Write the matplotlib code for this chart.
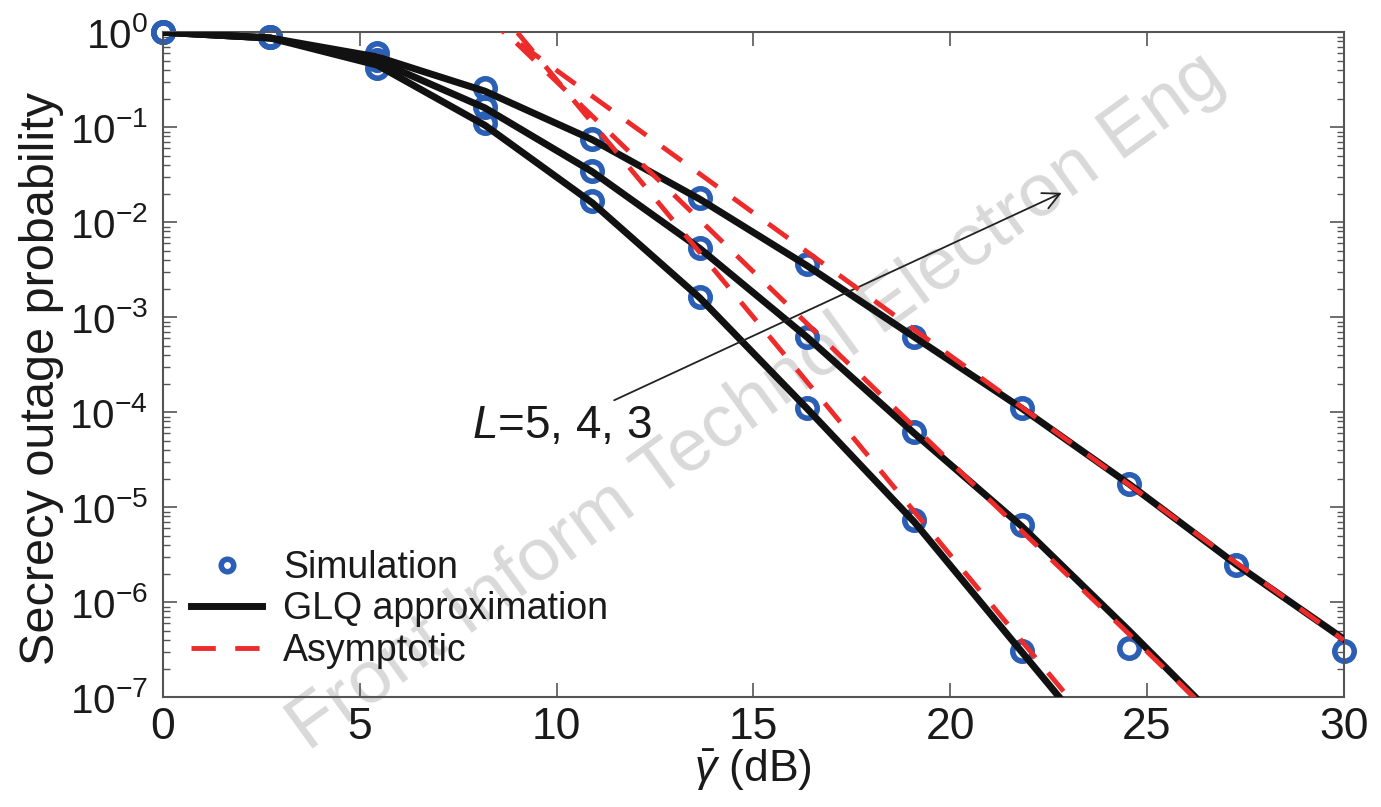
import numpy as np
import matplotlib
matplotlib.use("Agg")
import matplotlib.pyplot as plt
from matplotlib.ticker import LogLocator, NullFormatter

plt.rcParams['font.family'] = ['Liberation Sans', 'DejaVu Sans']
plt.rcParams['mathtext.fontset'] = 'custom'
plt.rcParams['mathtext.rm'] = 'Liberation Sans'
plt.rcParams['mathtext.it'] = 'Liberation Sans:italic'

# average SNR (dB) grid of the simulation points
snr_db = [0, 2.73, 5.45, 8.18, 10.91, 13.64, 16.36, 19.09, 21.82, 24.55, 27.27, 30]

# Monte-Carlo results (nan = no outage observed)
sim_L3 = [1.0, 0.885, 0.60, 0.257, 0.076, 0.0178, 3.6e-3, 6.2e-4, 1.1e-4, 1.74e-5, 2.45e-6, 3.1e-7]
sim_L4 = [1.0, 0.885, 0.51, 0.162, 0.035, 0.0054, 6.2e-4, 6.2e-5, 6.5e-6, 3.3e-7, np.nan, np.nan]
sim_L5 = [1.0, 0.885, 0.42, 0.11, 0.0166, 1.62e-3, 1.12e-4, 7.3e-6, 3.1e-7, np.nan, np.nan, np.nan]

# Gauss-Laguerre quadrature approximation
glq_L3 = [1.0, 0.87, 0.55, 0.24, 0.074, 0.0175, 3.5e-3, 6.2e-4, 1.1e-4, 1.75e-5, 2.5e-6, 4.1e-7]
glq_L4 = [1.0, 0.87, 0.50, 0.16, 0.034, 0.0053, 6.2e-4, 6.0e-5, 6.3e-6, 5.0e-7, 3.7e-8, 2.8e-9]
glq_L5 = [1.0, 0.87, 0.45, 0.105, 0.016, 1.6e-3, 1.1e-4, 7.0e-6, 3.0e-7, 1.3e-8, 6e-10, 2e-11]

# high-SNR asymptotes
asym_db = [8.18, 10.91, 13.64, 16.36, 19.09, 21.82, 24.55, 27.27, 30]
asym_L3 = [1.40, 0.212, 0.0323, 4.9e-3, 7.4e-4, 1.13e-4, 1.72e-5, 2.6e-6, 4.0e-7]
asym_L4 = [1.61, 0.131, 0.0106, 8.6e-4, 7.0e-5, 5.6e-6, 4.6e-7, 3.7e-8, 3.0e-9]
asym_L5 = [2.57, 0.111, 4.8e-3, 2.1e-4, 9.0e-6, 3.9e-7, 1.7e-8, 7e-10, 3e-11]

blue = '#2a5fb5'
red = '#ee2b2b'
txt = '#1a1a1a'

fig = plt.figure(figsize=(13.81, 8.07), dpi=100)
ax = fig.add_axes([0.118, 0.136, 0.855, 0.824])

for i, sim in enumerate([sim_L3, sim_L4, sim_L5]):
    ax.semilogy(snr_db, sim, 'o', ls='none', mfc='none', mec=blue, ms=14, mew=4,
                zorder=2, clip_on=False, label='Simulation' if i == 0 else None)
for i, glq in enumerate([glq_L3, glq_L4, glq_L5]):
    ax.semilogy(snr_db, glq, '-', color='#111111', lw=5, zorder=3,
                label='GLQ approximation' if i == 0 else None)
for i, asym in enumerate([asym_L3, asym_L4, asym_L5]):
    ax.semilogy(asym_db, asym, color=red, lw=3.5, dashes=(5, 4), zorder=4,
                label='Asymptotic' if i == 0 else None)

ax.set_xlim(0, 30)
ax.set_ylim(1e-7, 1)
ax.set_xticks([0, 5, 10, 15, 20, 25, 30])
ax.yaxis.set_major_locator(LogLocator(base=10, numticks=20))
ax.yaxis.set_minor_locator(LogLocator(base=10, subs=np.arange(2, 10), numticks=20))
ax.yaxis.set_minor_formatter(NullFormatter())
ax.tick_params(which='both', direction='in', top=True, right=True, colors='#555555',
               labelcolor=txt)
ax.tick_params(which='major', length=10, width=1.2)
ax.tick_params(which='minor', length=5, width=1.0)
ax.tick_params(axis='x', which='major', pad=7, labelsize=32)
ax.tick_params(axis='y', which='major', pad=11, labelsize=29)
ax.tick_params(axis='x', which='minor', bottom=False, top=False)
for sp in ax.spines.values():
    sp.set_color('#555555')
    sp.set_linewidth(1.5)

ax.set_xlabel(r'$\bar{\gamma}$ (dB)', fontsize=32, color=txt, labelpad=0)
ax.set_ylabel('Secrecy outage probability', fontsize=35, color=txt)
ax.yaxis.set_label_coords(-0.084, 0.48)

ax.annotate('', xy=(22.9, 0.021), xytext=(11.4, 1.3e-4),
            arrowprops=dict(arrowstyle='->', color='#222222', lw=1.3, mutation_scale=30))
ax.text(7.85, 7.2e-5, '$L$=5, 4, 3', fontsize=33, color=txt, ha='left', va='center')

leg = ax.legend(loc='lower left', bbox_to_anchor=(0.0, 0.0), frameon=False, fontsize=27,
                numpoints=1, handlelength=1.9, handletextpad=0.55, labelspacing=0.15,
                borderaxespad=0.35)
for t in leg.get_texts():
    t.set_color(txt)
leg.legend_handles[0].set_markersize(9)
leg.legend_handles[0].set_markeredgewidth(4)

# journal watermark
ax.text(0.548, 0.502, 'Front Inform Technol Electron Eng', transform=fig.transFigure,
        fontsize=54, color='#d9d9d9', rotation=36, ha='center', va='center',
        rotation_mode='anchor', zorder=1, clip_on=False)

fig.savefig('out.png', dpi=100)
